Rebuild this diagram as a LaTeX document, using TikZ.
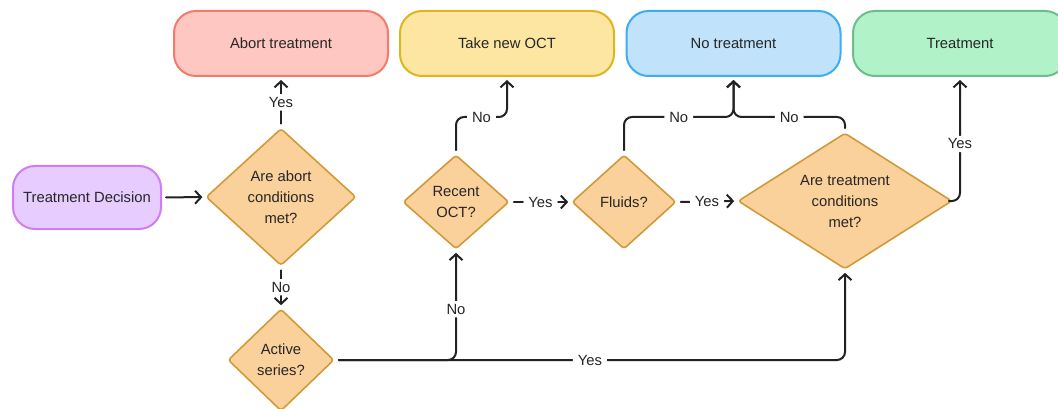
\documentclass[tikz,border=0pt]{standalone}
\usepackage{fontspec}
\setmainfont{Liberation Sans}
\usetikzlibrary{arrows.meta,shapes.geometric}
\definecolor{txt}{HTML}{262626}
\definecolor{ln}{HTML}{222222}
\definecolor{pinkF}{HTML}{FFC7C2}\definecolor{pinkD}{HTML}{F47B6B}
\definecolor{yelF}{HTML}{FDE6A2}\definecolor{yelD}{HTML}{DDB51F}
\definecolor{bluF}{HTML}{C0E2FB}\definecolor{bluD}{HTML}{3AAEF0}
\definecolor{grnF}{HTML}{B1F2C9}\definecolor{grnD}{HTML}{6CBC8C}
\definecolor{purF}{HTML}{E6CCFF}\definecolor{purD}{HTML}{D07DF2}
\definecolor{decF}{HTML}{FBD19B}\definecolor{decD}{HTML}{D09A3A}
\tikzset{
  term/.style={draw, line width=2pt, rounded corners=22pt, minimum width=214pt,
    minimum height=65pt, text=txt, font=\fontsize{14.8}{20}\selectfont, inner sep=0pt},
  dec/.style={diamond, draw=decD, fill=decF, line width=1.6pt, rounded corners=3pt,
    inner sep=0pt, text=txt, align=center, font=\fontsize{14.8}{21}\selectfont},
  conn/.style={draw=ln, line width=2pt, rounded corners=8pt, line cap=round,
    -{Straight Barb[length=6pt,width=13pt,line width=2pt]},
    shorten >=3pt, shorten <=4pt},
  lbl/.style={fill=white, inner xsep=5pt, inner ysep=3pt, text=txt, font=\fontsize{14.8}{16}\selectfont},
}
\begin{document}
\begin{tikzpicture}[x=1pt,y=-1pt]
\useasboundingbox (0,0) rectangle (1058,409);
\clip (0,0) rectangle (1058,409);
% terminals
\node[term, fill=pinkF, draw=pinkD] (abort) at (281,43.5) {Abort treatment};
\node[term, fill=yelF, draw=yelD] (oct) at (507,43.5) {Take new OCT};
\node[term, fill=bluF, draw=bluD] (notreat) at (733.5,43.5) {No treatment};
\node[term, fill=grnF, draw=grnD] (treat) at (960,43.5) {Treatment};
\node[term, fill=purF, draw=purD, minimum width=148pt, minimum height=63pt] (td) at (87,197.5) {Treatment Decision};
% decisions
\node[dec, minimum width=150pt, minimum height=137pt, aspect=1.1] (d1) at (281,197) {Are abort\\conditions\\met?};
\node[dec, minimum width=106pt, minimum height=102pt, aspect=1.04] (d2) at (281,360) {Active\\series?};
\node[dec, minimum width=106pt, minimum height=94pt, aspect=1.13] (d3) at (456,202) {Recent\\OCT?};
\node[dec, minimum width=104pt, minimum height=94pt, aspect=1.1] (d4) at (624,202) {Fluids?};
\node[dec, minimum width=214pt, minimum height=136pt, aspect=1.57] (d5) at (845,201) {Are treatment\\conditions\\met?};
% junction points
\coordinate (octin) at (507,117);
\coordinate (ntin) at (733.5,117);
% connectors
\draw[conn] (td) -- (d1);
\draw[conn] (d1.north) -- node[lbl]{Yes} (abort.south);
\draw[conn] (d1.south) -- node[lbl]{No} (d2.north);
\draw[conn] (d2.east) -| node[lbl,pos=0.25]{Yes} (d5.south);
\draw[conn] (d2.east) -| node[lbl,pos=0.73]{No} (d3.south);
\draw[conn] (d3.east) -- node[lbl]{Yes} (d4.west);
\draw[conn] (d4.east) -- node[lbl]{Yes} (d5.west);
\draw[conn] (d3.north) |- node[lbl,pos=0.75]{No} (octin) -- (oct.south);
\draw[conn] (d4.north) |- node[lbl,pos=0.75]{No} (ntin) -- (notreat.south);
\draw[conn] (d5.north) |- node[lbl,pos=0.75]{No} (ntin) -- (notreat.south);
\draw[conn] (d5.east) -| node[lbl,pos=0.73]{Yes} (treat.south);
\end{tikzpicture}
\end{document}
